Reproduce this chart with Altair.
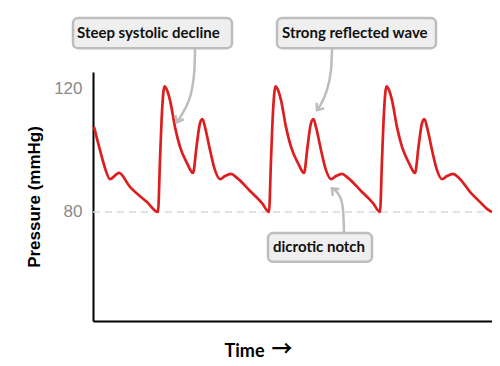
import altair as alt
import pandas as pd

# Pressure waveform (time in arbitrary units, pressure in mmHg)
wave_time = [1, 7, 12, 17, 26, 37, 54, 65,
             67, 69, 71.5, 74, 77, 82, 87, 94, 100, 103.5, 107, 109.5, 112, 117, 122, 127, 132, 138, 144, 157, 169, 176,
             178, 180, 182.5, 185, 188, 193, 198, 205, 211, 214.5, 218, 220.5, 223, 228, 233, 238, 243, 249, 255, 268, 280, 287,
             289, 291, 293.5, 296, 299, 304, 309, 316, 322, 325.5, 329, 331.5, 334, 339, 344, 349, 354, 360, 366, 377, 389, 394, 399]
wave_pressure = [107.5, 100.0, 94.2, 90.6, 92.6, 88.1, 83.2, 80.0,
                 96.8, 112.3, 120.6, 119.4, 116.1, 107.4, 101.0, 95.8, 92.6, 101.0, 108.7, 110.0, 107.4, 100.0, 93.5, 90.6, 91.6, 92.3, 91.0, 86.8, 82.9, 80.0,
                 96.8, 112.3, 120.6, 119.4, 116.1, 107.4, 101.0, 95.8, 92.6, 101.0, 108.7, 110.0, 107.4, 100.0, 93.5, 90.6, 91.6, 92.3, 91.0, 86.8, 82.9, 80.0,
                 96.8, 112.3, 120.6, 119.4, 116.1, 107.4, 101.0, 95.8, 92.6, 101.0, 108.7, 110.0, 107.4, 100.0, 93.5, 90.6, 91.6, 92.3, 91.0, 86.5, 82.6, 81.0, 80.0]

baseline_time = [0, 397]
baseline_pressure = [80, 80]

y_ticks = [80, 120]

# Annotations
labels = ["Steep systolic decline", "Strong reflected wave", "dicrotic notch"]
label_time = [-16, 189, 180]
label_pressure = [137.9, 137.9, 68.7]
box_t0 = [-20, 184, 175]
box_t1 = [139, 343, 279]
box_p0 = [132.9, 132.9, 63.9]
box_p1 = [142.6, 142.6, 73.2]

arrow_id = [1, 1, 1, 1, 1, 2, 2, 2, 2, 2, 3, 3, 3, 3, 3]
arrow_order = [0, 1, 2, 3, 4, 0, 1, 2, 3, 4, 0, 1, 2, 3, 4]
arrow_time = [102, 101, 96, 88, 84, 239, 238, 234, 228, 224, 251, 250, 247, 242, 239]
arrow_pressure = [132.9, 124.2, 116.1, 111.0, 109.0, 132.9, 125.8, 119.4, 114.8, 112.9, 73.2, 80.6, 84.9, 87.1, 87.6]
tip_time = [84, 224, 239]
tip_pressure = [109.0, 112.9, 87.6]
tip_angle = [27, 37, 135]

time_arrow = ["\u2192"]
time_arrow_t = [189]
time_arrow_p = [35.3]

wave = pd.DataFrame({"t": wave_time, "p": wave_pressure})
base = pd.DataFrame({"t": baseline_time, "p": baseline_pressure})
ann = pd.DataFrame({"label": labels, "t": label_time, "p": label_pressure,
                    "t0": box_t0, "t1": box_t1, "p0": box_p0, "p1": box_p1})
arr = pd.DataFrame({"id": arrow_id, "o": arrow_order, "t": arrow_time, "p": arrow_pressure})
tips = pd.DataFrame({"t": tip_time, "p": tip_pressure, "ang": tip_angle})
tarr = pd.DataFrame({"s": time_arrow, "t": time_arrow_t, "p": time_arrow_p})

FONT = "Liberation Sans"
NARROW = "Lato"
xs = alt.Scale(domain=[0, 399], nice=False, zero=False)
ys = alt.Scale(domain=[44.8, 125.2], nice=False, zero=False)

x_axis = alt.Axis(title="Time", labels=False, ticks=False, grid=False,
                  domainColor="black", domainWidth=2,
                  titleFont=NARROW, titleFontSize=18, titleFontWeight="bold", titleColor="black",
                  titleX=151, titleY=35, titleBaseline="alphabetic", titleAlign="center")
y_axis = alt.Axis(title="Pressure (mmHg)", values=y_ticks, ticks=False, grid=False,
                  domainColor="black", domainWidth=2,
                  labelFont=FONT, labelFontSize=17, labelColor="#8a8a8a", labelPadding=11,
                  titleFont=FONT, titleFontSize=17, titleFontWeight="bold", titleColor="black",
                  titleX=-59, titleY=124.5, titleAngle=270, titleBaseline="middle", titleAlign="center")

baseline = alt.Chart(base).mark_line(color="#d9d9d9", strokeWidth=1.5, strokeDash=[7, 5]).encode(
    x=alt.X("t:Q", scale=xs, axis=x_axis),
    y=alt.Y("p:Q", scale=ys, axis=y_axis),
)

line = alt.Chart(wave).mark_line(color="#dc1e1e", strokeWidth=2.7, interpolate="monotone").encode(
    x=alt.X("t:Q", scale=xs),
    y=alt.Y("p:Q", scale=ys),
)

arrows = alt.Chart(arr).mark_line(color="#bdbdbd", strokeWidth=2.5, interpolate="natural").encode(
    x=alt.X("t:Q", scale=xs),
    y=alt.Y("p:Q", scale=ys),
    detail="id:N",
    order="o:Q",
)

heads = alt.Chart(tips).mark_point(
    shape="M -1 -1.2 L 0 0 L 1 -1.2", filled=False, color="#bdbdbd", strokeWidth=2.5, size=90, opacity=1
).encode(
    x=alt.X("t:Q", scale=xs),
    y=alt.Y("p:Q", scale=ys),
    angle=alt.Angle("ang:Q", scale=None),
)

boxes = alt.Chart(ann).mark_rect(fill="#efefef", stroke="#bdbdbd", strokeWidth=2.5, cornerRadius=5).encode(
    x=alt.X("t0:Q", scale=xs),
    x2="t1:Q",
    y=alt.Y("p0:Q", scale=ys),
    y2="p1:Q",
)

texts = alt.Chart(ann).mark_text(align="left", baseline="middle", font=NARROW, fontSize=15,
                                 fontWeight="bold", color="#111111").encode(
    x=alt.X("t:Q", scale=xs),
    y=alt.Y("p:Q", scale=ys),
    text="label:N",
)

tarrow = alt.Chart(tarr).mark_text(align="center", baseline="middle", font="Noto Sans CJK SC", fontSize=21,
                                   fontWeight="bold", color="black").encode(
    x=alt.X("t:Q", scale=xs),
    y=alt.Y("p:Q", scale=ys),
    text="s:N",
)

chart = alt.layer(baseline, line, arrows, heads, boxes, texts, tarrow).properties(
    width=399, height=249,
    autosize=alt.AutoSizeParams(type="none"),
    padding={"left": 85, "top": 64, "right": 0, "bottom": 44},
).configure_view(strokeWidth=0)

chart.save("out.html", embed_options={"renderer": "svg", "actions": False})
